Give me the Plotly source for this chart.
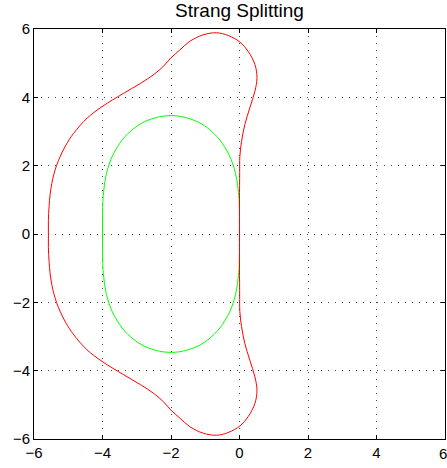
import plotly.graph_objects as go

# Green curve, counter-clockwise from the origin
green_x = [0.0, -0.005, -0.021, -0.058, -0.114, -0.196, -0.300, -0.43, -0.575, -0.742, -0.927, -1.12, -1.333, -1.55, -1.774, -2.0,
           -2.226, -2.45, -2.667, -2.88, -3.073, -3.258, -3.425, -3.57, -3.70, -3.804, -3.886, -3.942, -3.979, -3.995, -4.0,
           -3.995, -3.979, -3.942, -3.886, -3.804, -3.70, -3.57, -3.425, -3.258, -3.073, -2.88, -2.667, -2.45, -2.226, -2.0,
           -1.774, -1.55, -1.333, -1.12, -0.927, -0.742, -0.575, -0.43, -0.300, -0.196, -0.114, -0.058, -0.021, -0.005, 0.0]
green_y = [0.0, 0.767, 1.123, 1.456, 1.764, 2.049, 2.308, 2.54, 2.754, 2.938, 3.098, 3.23, 3.331, 3.404, 3.45, 3.464,
           3.45, 3.404, 3.331, 3.23, 3.098, 2.938, 2.754, 2.54, 2.308, 2.049, 1.764, 1.456, 1.123, 0.767, 0.0,
           -0.767, -1.123, -1.456, -1.764, -2.049, -2.308, -2.54, -2.754, -2.938, -3.098, -3.23, -3.331, -3.404, -3.45, -3.464,
           -3.45, -3.404, -3.331, -3.23, -3.098, -2.938, -2.754, -2.54, -2.308, -2.049, -1.764, -1.456, -1.123, -0.767, 0.0]

# Red curve, counter-clockwise from the origin
red_x = [0.0, 0.0, 0.005, 0.01, 0.06, 0.155, 0.30, 0.45, 0.51, 0.45, 0.25, 0.01, -0.33, -0.67, -1.06, -1.45, -1.74, -2.006,
         -2.21, -2.50, -2.89, -3.38, -4.01, -4.45, -4.84, -5.08, -5.23, -5.34, -5.42, -5.48, -5.53, -5.56, -5.58, -5.58,
         -5.58, -5.56, -5.53, -5.48, -5.42, -5.34, -5.23, -5.08, -4.84, -4.45, -4.01, -3.38, -2.89, -2.50, -2.21,
         -2.006, -1.74, -1.45, -1.06, -0.67, -0.33, 0.01, 0.25, 0.45, 0.51, 0.45, 0.30, 0.155, 0.06, 0.01, 0.005, 0.0, 0.0]
red_y = [0.0, 1.0, 1.8, 2.27, 2.71, 3.2, 3.69, 4.18, 4.57, 4.96, 5.35, 5.62, 5.81, 5.89, 5.83, 5.64, 5.39, 5.15,
         4.92, 4.67, 4.41, 4.12, 3.73, 3.39, 2.95, 2.58, 2.28, 2.01, 1.75, 1.48, 1.15, 0.8, 0.4, 0.0,
         -0.4, -0.8, -1.15, -1.48, -1.75, -2.01, -2.28, -2.58, -2.95, -3.39, -3.73, -4.12, -4.41, -4.67, -4.92,
         -5.15, -5.39, -5.64, -5.83, -5.89, -5.81, -5.62, -5.35, -4.96, -4.57, -4.18, -3.69, -3.2, -2.71, -2.27, -1.8, -1.0, 0.0]

tick_vals = [-6, -4, -2, 0, 2, 4, 6]
title_text = "Strang Splitting"
font_family = "Liberation Sans, Arial, Helvetica, sans-serif"

fig = go.Figure()
fig.add_trace(go.Scatter(x=green_x, y=green_y, mode="lines",
                         line=dict(color="#00ff00", width=1, shape="spline", smoothing=1.0)))
fig.add_trace(go.Scatter(x=red_x, y=red_y, mode="lines",
                         line=dict(color="#ff0000", width=1, shape="spline", smoothing=1.0)))

axis_common = dict(
    range=[-6, 6], tickvals=tick_vals, showgrid=True, gridcolor="#444444",
    griddash="1px,6px", gridwidth=1, zeroline=False, showline=True, linecolor="black",
    linewidth=1, mirror="ticks", ticks="inside", ticklen=4, tickcolor="black",
    automargin=False,
    tickfont=dict(family=font_family, size=15, color="black"),
)
fig.update_xaxes(**axis_common)
fig.update_yaxes(**axis_common)

# last x tick label, which sits at the figure edge (plotly drops it otherwise)
fig.add_annotation(x=tick_vals[-1], xref="x", y=0, yref="paper", yanchor="top", xanchor="right",
                   xshift=4, yshift=-4, text=str(tick_vals[-1]), showarrow=False,
                   font=dict(family=font_family, size=15, color="black"))

fig.update_layout(
    width=447, height=468,
    margin=dict(l=34, r=2, t=29, b=29),
    showlegend=False,
    plot_bgcolor="white", paper_bgcolor="white",
    title=dict(text=title_text, x=(34 + 445) / 2 / 447, xanchor="center", y=1 - 10 / 468, yanchor="middle",
               automargin=False,
               font=dict(family=font_family, size=19, color="black")),
)

fig.write_html("out.html", config={"displayModeBar": False},
               post_script="document.body.style.margin='0';document.body.style.overflow='hidden';")
